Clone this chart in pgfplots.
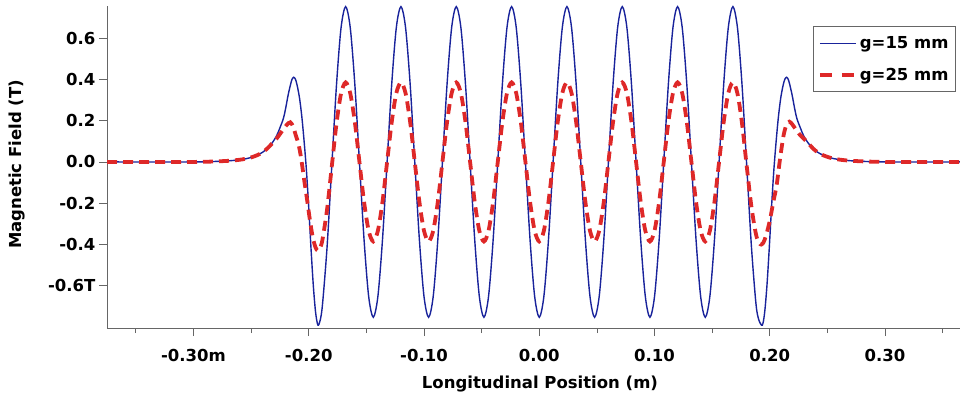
\documentclass[border=0pt]{standalone}
\usepackage{fontspec}
\setmainfont{DejaVu Sans}
\usepackage{pgfplots}
\pgfplotsset{compat=1.18}
\definecolor{bblue}{RGB}{25,35,155}
\definecolor{rred}{RGB}{222,40,40}
\newcommand{\cf}{\bfseries\fontsize{16.5}{19}\selectfont}
\begin{document}
\begin{tikzpicture}
\path[use as bounding box] (0,0) rectangle (960pt,400pt);
\begin{axis}[
  at={(107pt,72pt)}, anchor=south west,
  scale only axis, width=853pt, height=322pt,
  xmin=-0.375, xmax=0.365, ymin=-0.804, ymax=0.755,
  axis lines=left, axis line style={-, draw=black!60, line width=0.8pt},
  tick align=outside, major tick length=8pt, minor tick length=5pt,
  every tick/.style={draw=black!60, line width=0.8pt},
  xtick={-0.3,-0.2,-0.1,0,0.1,0.2,0.3},
  xticklabels={-0.30m,-0.20,-0.10,0.00,0.10,0.20,0.30},
  minor xtick={-0.35,-0.25,-0.15,-0.05,0.05,0.15,0.25,0.35},
  ytick={-0.6,-0.4,-0.2,0,0.2,0.4,0.6},
  yticklabels={-0.6T,-0.4,-0.2,0.0,0.2,0.4,0.6},
  ticklabel style={font=\cf},
  xticklabel style={yshift=-10pt},
  /pgf/number format/assume math mode=true,
  xlabel={Longitudinal Position (m)}, ylabel={Magnetic Field (T)},
  every axis x label/.style={at={(axis description cs:0.5076,-0.174)},anchor=center,font=\cf},
  every axis y label/.style={at={(axis description cs:-0.1055,0.508)},anchor=center,rotate=90,font=\cf},
  legend style={at={(axis description cs:0.9953,0.9377)}, anchor=north east,
    draw=black!60, line width=0.8pt, font=\cf, inner xsep=5pt, inner ysep=8pt,
    row sep=14pt, cells={anchor=west}},
]
\addplot[bblue, line width=1.4pt, smooth,
  legend image code/.code={\draw[bblue, line width=1.4pt] (0pt,0pt) -- (36pt,0pt);}] coordinates {
(-0.375,0) (-0.303,0) (-0.283,0.002) (-0.268,0.006) (-0.258,0.012) (-0.251,0.020)
(-0.245,0.032) (-0.240,0.047) (-0.236,0.065) (-0.232,0.090) (-0.228,0.125) (-0.225,0.165)
(-0.222,0.210) (-0.220,0.260) (-0.218,0.320) (-0.216,0.370) (-0.2145,0.400) (-0.213,0.410)
(-0.2115,0.400) (-0.210,0.370) (-0.208,0.310) (-0.206,0.220) (-0.204,0.100) (-0.202,-0.040)
(-0.200,-0.220) (-0.198,-0.420) (-0.196,-0.600) (-0.194,-0.730) (-0.192,-0.790) (-0.190,-0.765)
(-0.188,-0.687) (-0.184,-0.405) (-0.180,-0.020) (-0.176,0.365) (-0.172,0.647) (-0.168,0.752)
(-0.164,0.651) (-0.160,0.376) (-0.156,0) (-0.152,-0.376) (-0.148,-0.651) (-0.144,-0.752)
(-0.140,-0.651) (-0.136,-0.376) (-0.132,0) (-0.128,0.376) (-0.124,0.651) (-0.120,0.752)
(-0.116,0.651) (-0.112,0.376) (-0.108,0) (-0.104,-0.376) (-0.100,-0.651) (-0.096,-0.752)
(-0.092,-0.651) (-0.088,-0.376) (-0.084,0) (-0.080,0.376) (-0.076,0.651) (-0.072,0.752)
(-0.068,0.651) (-0.064,0.376) (-0.060,0) (-0.056,-0.376) (-0.052,-0.651) (-0.048,-0.752)
(-0.044,-0.651) (-0.040,-0.376) (-0.036,0) (-0.032,0.376) (-0.028,0.651) (-0.024,0.752)
(-0.020,0.651) (-0.016,0.376) (-0.012,0) (-0.008,-0.376) (-0.004,-0.651) (0.000,-0.752)
(0.004,-0.651) (0.008,-0.376) (0.012,0) (0.016,0.376) (0.020,0.651) (0.024,0.752)
(0.028,0.651) (0.032,0.376) (0.036,0) (0.040,-0.376) (0.044,-0.651) (0.048,-0.752)
(0.052,-0.651) (0.056,-0.376) (0.060,0) (0.064,0.376) (0.068,0.651) (0.072,0.752)
(0.076,0.651) (0.080,0.376) (0.084,0) (0.088,-0.376) (0.092,-0.651) (0.096,-0.752)
(0.100,-0.651) (0.104,-0.376) (0.108,0) (0.112,0.376) (0.116,0.651) (0.120,0.752)
(0.124,0.651) (0.128,0.376) (0.132,0) (0.136,-0.376) (0.140,-0.651) (0.144,-0.752)
(0.148,-0.651) (0.152,-0.376) (0.156,0) (0.160,0.376) (0.164,0.651) (0.168,0.752)
(0.172,0.647) (0.176,0.365) (0.180,-0.020) (0.184,-0.405) (0.188,-0.687) (0.1905,-0.765)
(0.1935,-0.790) (0.1955,-0.730) (0.1975,-0.600) (0.1995,-0.420) (0.2015,-0.220) (0.2035,-0.040)
(0.2055,0.100) (0.2075,0.220) (0.2095,0.310) (0.2115,0.370) (0.213,0.400) (0.2145,0.410)
(0.216,0.400) (0.2175,0.370) (0.2195,0.320) (0.2215,0.260) (0.2235,0.210) (0.2265,0.165)
(0.2295,0.125) (0.2335,0.090) (0.2375,0.065) (0.2415,0.047) (0.2465,0.032) (0.2525,0.020)
(0.2595,0.012) (0.2695,0.006) (0.2845,0.002) (0.3045,0) (0.365,0)
};
\addlegendentry{g=15 mm}
\addplot[rred, line width=3.8pt, dash pattern=on 10pt off 6pt, smooth,
  legend image code/.code={\draw[rred, line width=3.8pt, dash pattern=on 12pt off 10pt] (0pt,0pt) -- (36pt,0pt);}] coordinates {
(-0.375,0) (-0.303,0) (-0.283,0.002) (-0.268,0.006) (-0.258,0.012) (-0.251,0.020)
(-0.245,0.032) (-0.240,0.047) (-0.236,0.065) (-0.232,0.088) (-0.228,0.112) (-0.225,0.135)
(-0.222,0.158) (-0.219,0.180) (-0.216,0.192) (-0.2135,0.170) (-0.211,0.125) (-0.2088,0.085)
(-0.2065,0.015) (-0.204,-0.085) (-0.2015,-0.180) (-0.199,-0.280) (-0.1965,-0.365) (-0.194,-0.415)
(-0.192,-0.430) (-0.190,-0.415) (-0.188,-0.374) (-0.184,-0.226) (-0.180,-0.022) (-0.176,0.182)
(-0.172,0.330) (-0.168,0.385)
(-0.164,0.333) (-0.160,0.193) (-0.156,0) (-0.152,-0.193) (-0.148,-0.333) (-0.144,-0.385)
(-0.140,-0.333) (-0.136,-0.193) (-0.132,0) (-0.128,0.193) (-0.124,0.333) (-0.120,0.385)
(-0.116,0.333) (-0.112,0.193) (-0.108,0) (-0.104,-0.193) (-0.100,-0.333) (-0.096,-0.385)
(-0.092,-0.333) (-0.088,-0.193) (-0.084,0) (-0.080,0.193) (-0.076,0.333) (-0.072,0.385)
(-0.068,0.333) (-0.064,0.193) (-0.060,0) (-0.056,-0.193) (-0.052,-0.333) (-0.048,-0.385)
(-0.044,-0.333) (-0.040,-0.193) (-0.036,0) (-0.032,0.193) (-0.028,0.333) (-0.024,0.385)
(-0.020,0.333) (-0.016,0.193) (-0.012,0) (-0.008,-0.193) (-0.004,-0.333) (0.000,-0.385)
(0.004,-0.333) (0.008,-0.193) (0.012,0) (0.016,0.193) (0.020,0.333) (0.024,0.385)
(0.028,0.333) (0.032,0.193) (0.036,0) (0.040,-0.193) (0.044,-0.333) (0.048,-0.385)
(0.052,-0.333) (0.056,-0.193) (0.060,0) (0.064,0.193) (0.068,0.333) (0.072,0.385)
(0.076,0.333) (0.080,0.193) (0.084,0) (0.088,-0.193) (0.092,-0.333) (0.096,-0.385)
(0.100,-0.333) (0.104,-0.193) (0.108,0) (0.112,0.193) (0.116,0.333) (0.120,0.385)
(0.124,0.333) (0.128,0.193) (0.132,0) (0.136,-0.193) (0.140,-0.333) (0.144,-0.385)
(0.148,-0.333) (0.152,-0.193) (0.156,0) (0.160,0.193) (0.164,0.333) (0.168,0.385)
(0.172,0.330) (0.176,0.182) (0.180,-0.022) (0.184,-0.215) (0.188,-0.350) (0.1905,-0.390)
(0.1925,-0.400) (0.1945,-0.390) (0.1965,-0.360) (0.1985,-0.320) (0.2005,-0.270) (0.203,-0.195)
(0.206,-0.110) (0.209,0.020) (0.212,0.130) (0.2145,0.180) (0.217,0.195) (0.2195,0.182)
(0.2225,0.158) (0.226,0.132) (0.230,0.110) (0.2335,0.090) (0.2375,0.065) (0.2415,0.047)
(0.2465,0.032) (0.2525,0.020) (0.2595,0.012) (0.2695,0.006) (0.2845,0.002) (0.3045,0) (0.365,0)
};
\addlegendentry{g=25 mm}
\end{axis}
\end{tikzpicture}
\end{document}
